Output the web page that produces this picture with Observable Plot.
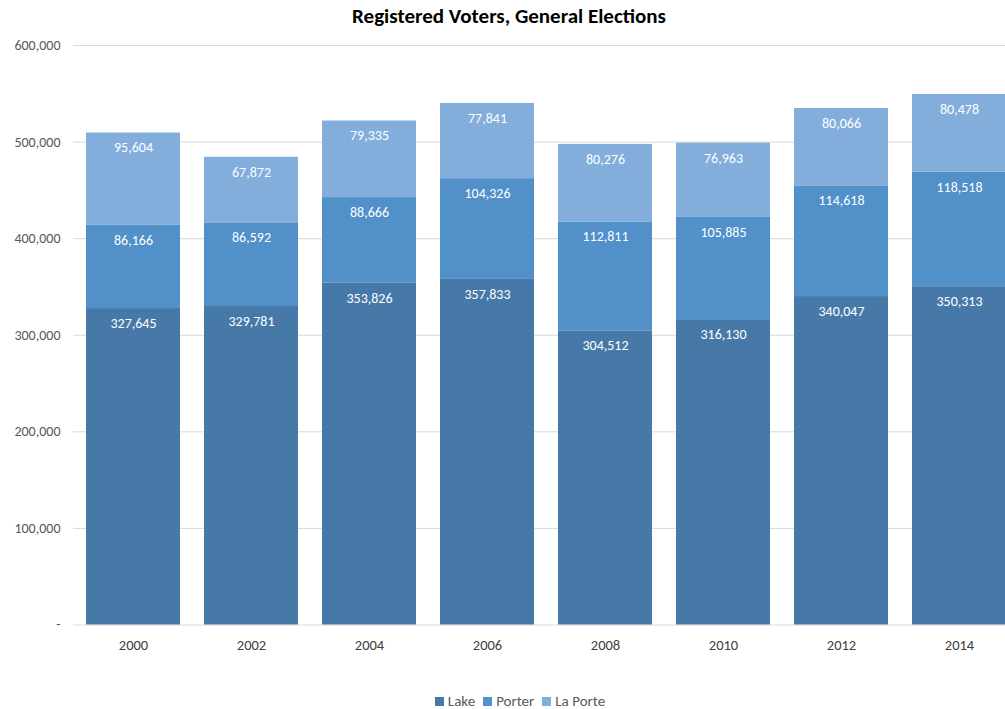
<!DOCTYPE html>
<html>
<head>
<meta charset="utf-8">
<script src="https://cdn.jsdelivr.net/npm/d3@7"></script>
<script src="https://cdn.jsdelivr.net/npm/@observablehq/plot@0.6"></script>
<style>
  html, body { margin: 0; padding: 0; overflow: hidden; background: #fff; width: 1005px; height: 709px; }
  body { position: relative; font-family: Carlito, Lato, "Open Sans", sans-serif; }
  #title { position: absolute; top: 3px; left: 0; width: 1018px; text-align: center; font-weight: bold; font-size: 21px; color: #000; }
  #legend { position: absolute; top: 694px; left: 0; width: 1040px; text-align: center; font-size: 15px; line-height: 14px; color: #595959; }
  #legend span.item { margin: 0 4px; }
  #legend span.sw { display: inline-block; width: 9px; height: 9px; margin-right: 4px; vertical-align: 0px; }
  #chart { position: absolute; top: 0; left: 0; }
  #chart svg { max-width: none; }
</style>
</head>
<body>
<div id="title">Registered Voters, General Elections</div>
<div id="chart"></div>
<div id="legend"></div>
<script>
const years = ["2000", "2002", "2004", "2006", "2008", "2010", "2012", "2014"];
const seriesNames = ["Lake", "Porter", "La Porte"];
const lake = [327645, 329781, 353826, 357833, 304512, 316130, 340047, 350313];
const porter = [86166, 86592, 88666, 104326, 112811, 105885, 114618, 118518];
const laPorte = [95604, 67872, 79335, 77841, 80276, 76963, 80066, 80478];
const yTicks = [0, 100000, 200000, 300000, 400000, 500000, 600000];
const colors = ["#4779a8", "#5190c8", "#83aedc"];

const seriesValues = [lake, porter, laPorte];
const data = [];
seriesNames.forEach((s, i) => {
  years.forEach((yr, j) => data.push({year: yr, series: s, value: seriesValues[i][j]}));
});

const fmt = d3.format(",");
const font = "Carlito, Lato, 'Open Sans', sans-serif";

const chart = Plot.plot({
  width: 1019,
  height: 709,
  marginLeft: 73,
  marginRight: 0,
  marginTop: 45,
  marginBottom: 84.5,
  style: {fontFamily: font, fontSize: "14px", background: "transparent", maxWidth: "none"},
  x: {domain: years, paddingInner: 0.2, paddingOuter: 0.1, label: null},
  y: {domain: [0, 600000], label: null},
  color: {domain: seriesNames, range: colors},
  marks: [
    Plot.ruleY(yTicks, {stroke: "#d9d9d9", strokeWidth: 1}),
    Plot.barY(data, {x: "year", y: "value", fill: "series", z: "series", order: seriesNames}),
    Plot.text(data, Plot.stackY2({x: "year", y: "value", z: "series", order: seriesNames, text: d => fmt(d.value), fill: "white", dy: 15, fontSize: 14})),
    Plot.axisX({tickSize: 0, tickPadding: 15, fill: "#404040", fontSize: 14.5}),
    Plot.axisY({ticks: yTicks, tickSize: 0, tickPadding: 13, fill: "#595959", fontSize: 14,
      tickFormat: d => d === 0 ? "-" : fmt(d)}),
  ]
});
document.getElementById("chart").appendChild(chart);

const legend = document.getElementById("legend");
seriesNames.forEach((s, i) => {
  const item = document.createElement("span");
  item.className = "item";
  const sw = document.createElement("span");
  sw.className = "sw";
  sw.style.background = colors[i];
  item.appendChild(sw);
  item.appendChild(document.createTextNode(s));
  legend.appendChild(item);
});
</script>
</body>
</html>
